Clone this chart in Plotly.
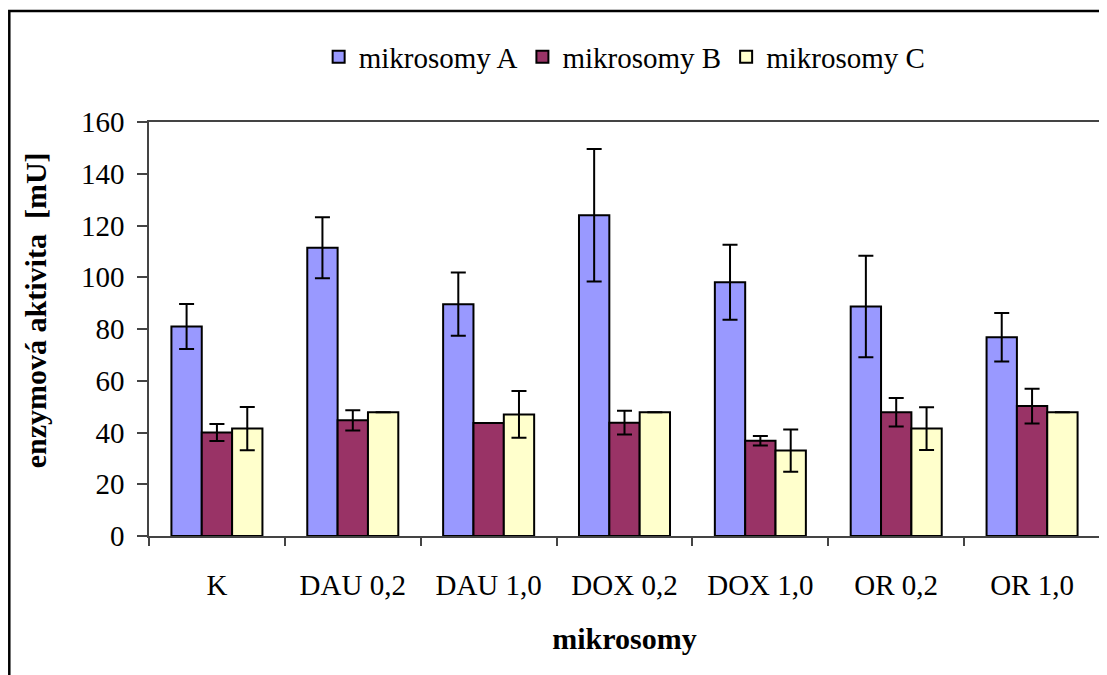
import plotly.graph_objects as go

categories = ["K", "DAU 0,2", "DAU 1,0", "DOX 0,2", "DOX 1,0", "OR 0,2", "OR 1,0"]
series_names = ["mikrosomy A", "mikrosomy B", "mikrosomy C"]
values_a = [81.0, 111.4, 89.6, 124.0, 98.1, 88.7, 76.8]
errors_a = [8.7, 11.8, 12.2, 25.6, 14.5, 19.6, 9.4]
values_b = [40.0, 44.7, 43.7, 43.8, 36.8, 47.8, 50.2]
errors_b = [3.3, 3.9, 0.0, 4.6, 1.8, 5.5, 6.7]
values_c = [41.5, 47.8, 47.0, 47.8, 33.0, 41.5, 47.8]
errors_c = [8.4, 0.0, 9.0, 0.0, 8.2, 8.3, 0.0]
y_ticks = [0, 20, 40, 60, 80, 100, 120, 140, 160]

colors = ["#9999FF", "#993366", "#FFFFCC"]
FONT = "Liberation Serif, Times New Roman, serif"
FS = 29
FS_TITLE = 30

fig = go.Figure()
for name, vals, errs, col in zip(series_names, [values_a, values_b, values_c],
                                 [errors_a, errors_b, errors_c], colors):
    fig.add_trace(go.Bar(
        x=categories, y=vals, name=name,
        marker=dict(color=col, line=dict(color="black", width=2)),
        error_y=dict(type="data", array=errs, visible=True,
                     color="black", thickness=2, width=7.5),
    ))

# page has an 8px body margin; figure coordinates = page coordinates - 8
OFF = 8
W, H = 1099, 667
L, T = 149 - OFF, 122 - OFF
R = W - (1102 - OFF)
B = H - (536 - OFF)
pw, ph = W - L - R, H - T - B

def px_x(p):
    return (p - OFF - L) / pw

def px_y(p):
    return (H - B - (p - OFF)) / ph

fig.update_layout(
    width=W, height=H,
    margin=dict(l=L, r=R, t=T, b=B),
    paper_bgcolor="white", plot_bgcolor="white",
    barmode="group", bargap=0.33, bargroupgap=0,
    font=dict(family=FONT, size=FS, color="black"),
    showlegend=True,
    legend=dict(orientation="h", x=px_x(319), xanchor="left",
                y=px_y(57), yanchor="middle",
                font=dict(family=FONT, size=FS, color="black"),
                bgcolor="rgba(0,0,0,0)", itemwidth=30, tracegroupgap=0),
    xaxis=dict(
        showline=True, linecolor="#444444", linewidth=1.5, mirror=True,
        ticks="outside", tickson="boundaries", ticklen=8, tickcolor="#444444",
        tickwidth=1.5, showgrid=False, ticklabelstandoff=22,
        tickfont=dict(family=FONT, size=FS),
        title=dict(text="<b>mikrosomy</b>", font=dict(family=FONT, size=FS_TITLE),
                   standoff=28),
    ),
    yaxis=dict(
        range=[0, 160], tickvals=y_ticks,
        showline=True, linecolor="#444444", linewidth=1.5, mirror=True,
        ticks="outside", ticklen=10, tickcolor="#444444", tickwidth=1.5,
        showgrid=False, zeroline=False, ticklabelstandoff=7,
        tickfont=dict(family=FONT, size=FS),
    ),
    annotations=[dict(
        text="<b>enzymová aktivita\u00a0 [mU]</b>", textangle=-90,
        xref="paper", yref="paper", x=px_x(35), y=px_y(310),
        xanchor="center", yanchor="middle", showarrow=False,
        font=dict(family=FONT, size=FS_TITLE, color="black"),
    )],
    shapes=[dict(
        type="rect", xref="paper", yref="paper",
        x0=px_x(9), x1=px_x(1120), y0=px_y(690), y1=px_y(11),
        line=dict(color="black", width=2.5), fillcolor="rgba(0,0,0,0)",
        layer="below",
    )],
)

fig.write_html("out.html")
